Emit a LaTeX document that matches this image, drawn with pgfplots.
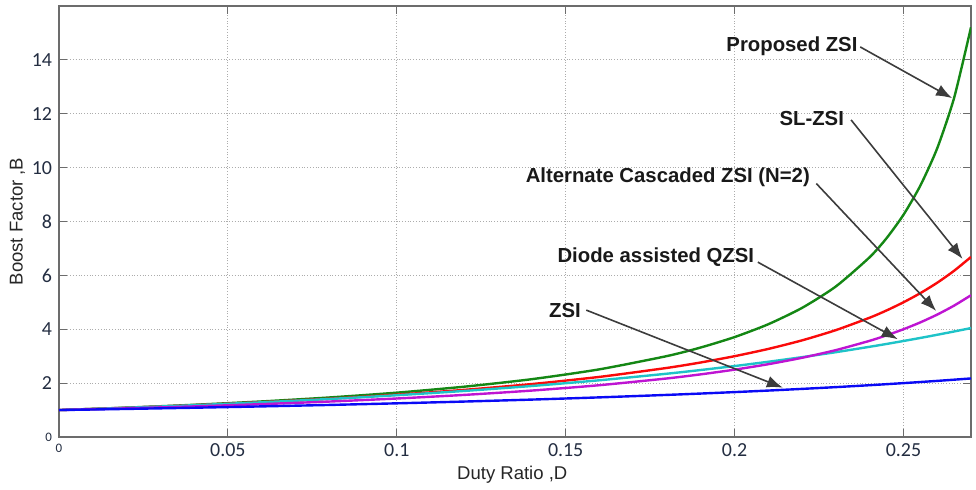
\documentclass[border=0pt]{standalone}
\usepackage{pgfplots}
\pgfplotsset{compat=1.18}
\usepackage{pgfplotstable}
\usepackage{fontspec}
\setmainfont{Liberation Sans}
\newfontfamily\carlito{Carlito}
\usetikzlibrary{arrows.meta}
\definecolor{tickc}{RGB}{35,45,65}
\definecolor{cgreen}{RGB}{20,135,20}
\definecolor{cred}{RGB}{250,10,10}
\definecolor{cmag}{RGB}{190,20,210}
\definecolor{ccyan}{RGB}{30,195,200}
\definecolor{cblue}{RGB}{10,10,245}
\definecolor{arrc}{RGB}{60,60,60}

\pgfplotstableread{
D G R M C B
0 1 1 1 1 1
0.02 1.090 1.085 1.064 1.085 1.042
0.04 1.196 1.182 1.136 1.180 1.087
0.06 1.320 1.293 1.220 1.288 1.136
0.08 1.467 1.421 1.316 1.411 1.190
0.10 1.646 1.571 1.429 1.551 1.250
0.12 1.868 1.750 1.563 1.710 1.316
0.14 2.147 1.966 1.724 1.894 1.389
0.16 2.512 2.231 1.923 2.106 1.471
0.18 3.005 2.565 2.174 2.350 1.563
0.19 3.323 2.767 2.326 2.487 1.613
0.20 3.709 3.000 2.500 2.634 1.667
0.21 4.187 3.270 2.703 2.793 1.724
0.22 4.794 3.588 2.941 2.965 1.786
0.23 5.589 3.968 3.226 3.149 1.852
0.24 6.675 4.429 3.571 3.349 1.923
0.245 7.381 4.698 3.774 3.454 1.961
0.25 8.247 5.000 4.000 3.564 2.000
0.255 9.332 5.340 4.255 3.677 2.041
0.26 10.72 5.727 4.545 3.795 2.083
0.265 12.59 6.171 4.878 3.917 2.128
0.27 15.21 6.684 5.263 4.044 2.174
}\datatable

\begin{document}
\begin{tikzpicture}
\path[use as bounding box] (-29.5bp,-26.5bp) rectangle (458.5bp,218.5bp);
\begin{axis}[
  at={(0,0)}, anchor=south west,
  scale only axis, width=456bp, height=215.5bp,
  xmin=0, xmax=0.27, ymin=0, ymax=16,
  xtick={0,0.05,0.1,0.15,0.2,0.25},
  xticklabels={{\fontsize{6.5}{7}\selectfont 0},0.05,0.1,0.15,0.2,0.25},
  ytick={0,2,4,6,8,10,12,14},
  yticklabels={{\fontsize{6.5}{7}\selectfont 0},2,4,6,8,10,12,14},
  grid=major,
  major grid style={densely dotted, gray!65, line width=0.5pt},
  tick align=inside, major tick length=4bp,
  tick style={gray!85!black, line width=0.6pt},
  axis line style={gray!85!black, line width=0.7pt},
  tick label style={font=\carlito\fontsize{10}{11}\selectfont, text=tickc},
  /pgf/number format/assume math mode=true,
  xlabel={Duty Ratio ,D},
  ylabel={Boost Factor ,B},
  label style={font=\fontsize{9.3}{11}\selectfont, text=black!85},
  xlabel style={at={(axis description cs:0.497,-0.088)}, anchor=center},
  ylabel style={at={(axis description cs:-0.0455,0.5)}, anchor=center},
  clip mode=individual,
  every axis plot/.append style={line width=1.2bp, smooth, tension=0.4},
]
\addplot[cgreen] table[x=D,y=G] {\datatable};
\addplot[cred] table[x=D,y=R] {\datatable};
\addplot[ccyan] table[x=D,y=C] {\datatable};
\addplot[cmag] table[x=D,y=M] {\datatable};
\addplot[cblue] table[x=D,y=B] {\datatable};

\tikzset{lbl/.style={font=\bfseries\fontsize{10.2}{12}\selectfont, text=black!90, anchor=east, inner sep=0pt},
         arr/.style={arrc, line width=0.8bp, -{Latex[length=8bp,width=6bp]}}}
\node[lbl] at (axis cs:0.2365,14.50) {Proposed ZSI};
\draw[arr] (axis cs:0.2372,14.48) -- (axis cs:0.2644,12.58);
\node[lbl] at (axis cs:0.2325,11.83) {SL-ZSI};
\draw[arr] (axis cs:0.2345,11.77) -- (axis cs:0.2675,6.61);
\node[lbl] at (axis cs:0.2224,9.65) {Alternate Cascaded ZSI (N=2)};
\draw[arr] (axis cs:0.2242,9.41) -- (axis cs:0.2597,4.68);
\node[lbl] at (axis cs:0.2059,6.67) {Diode assisted QZSI};
\draw[arr] (axis cs:0.2069,6.49) -- (axis cs:0.2483,3.63);
\node[lbl] at (axis cs:0.1546,4.71) {ZSI};
\draw[arr] (axis cs:0.1561,4.71) -- (axis cs:0.2143,1.83);
\end{axis}
\end{tikzpicture}
\end{document}
